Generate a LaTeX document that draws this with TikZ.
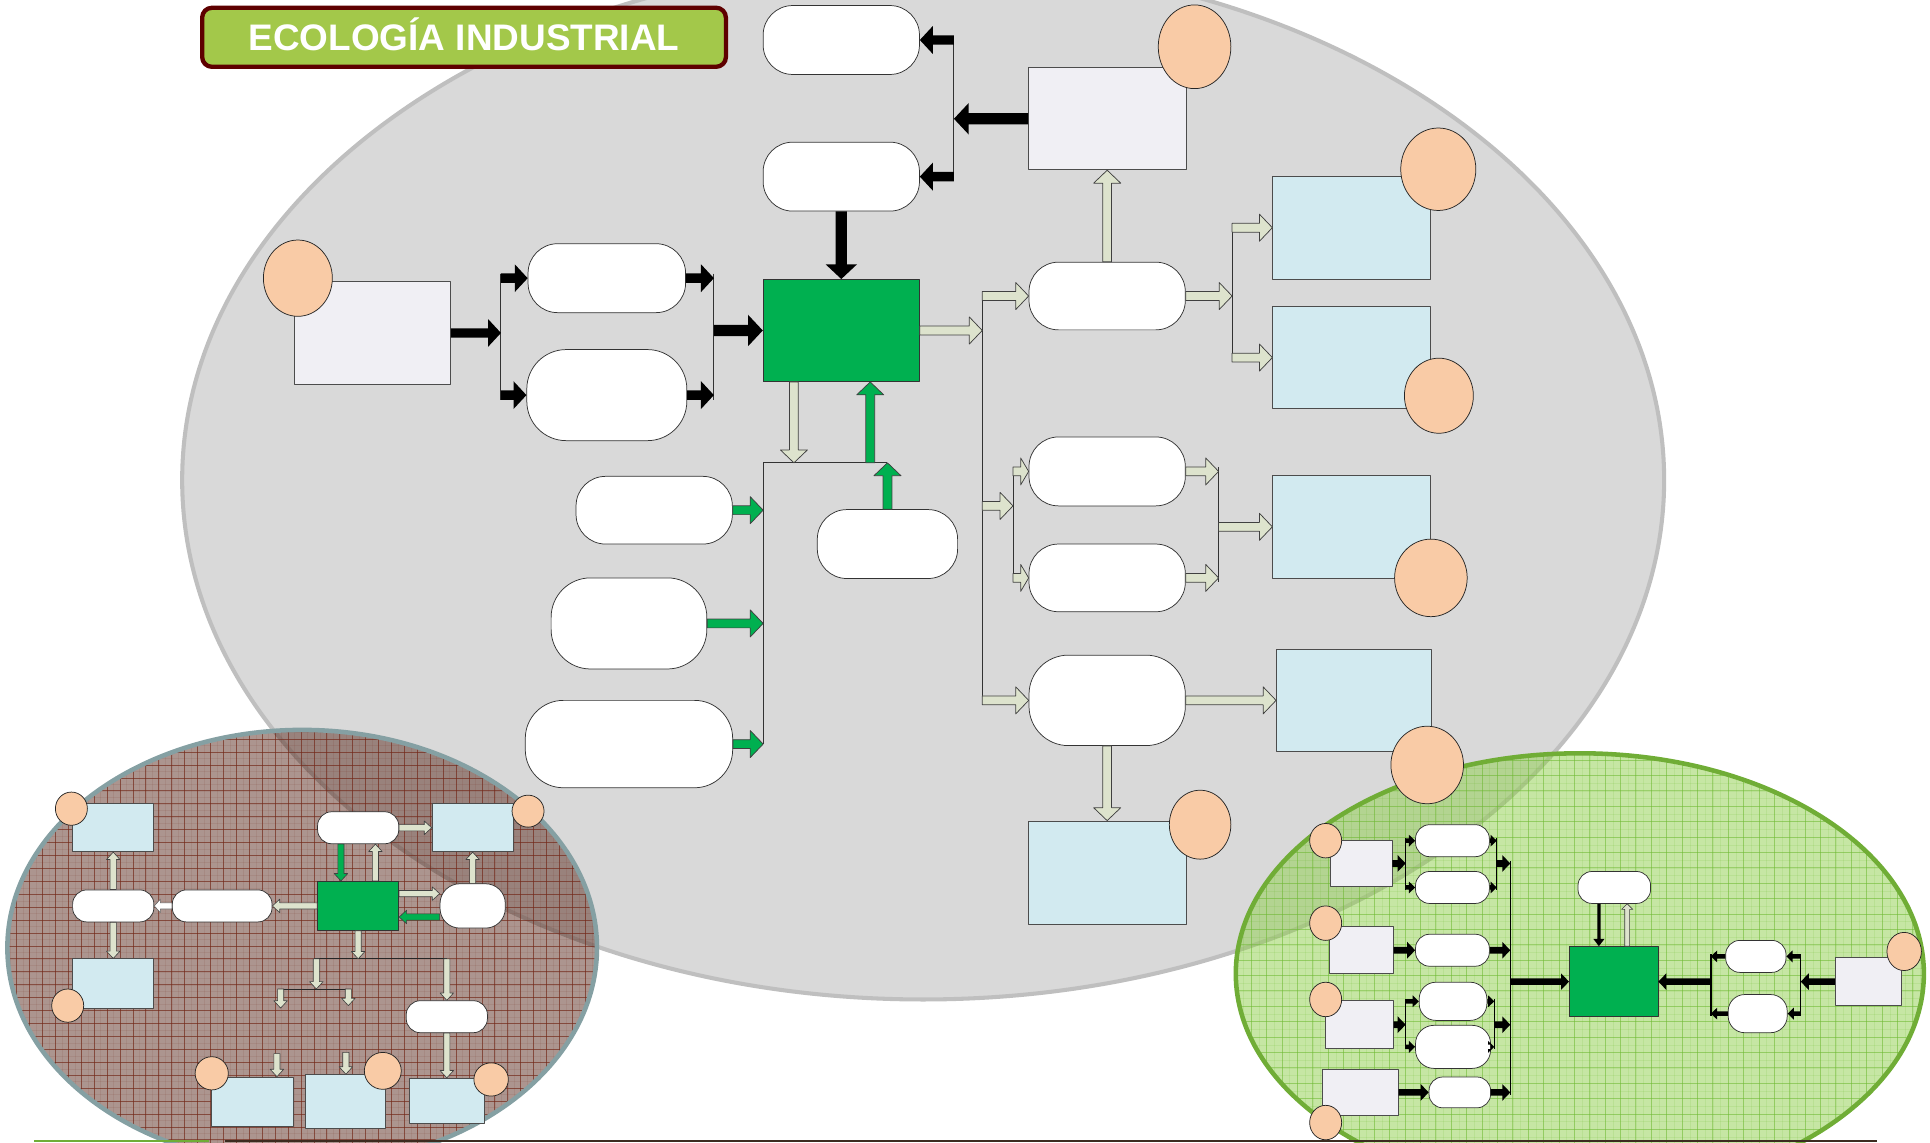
\documentclass[tikz,border=0pt]{standalone}
\usepackage{fontspec}
\setmainfont{Liberation Sans}
\usetikzlibrary{calc,shapes.geometric}

\definecolor{graybg}{RGB}{217,217,217}
\definecolor{grayedge}{RGB}{191,191,191}
\definecolor{titlefill}{RGB}{163,200,74}
\definecolor{titleedge}{RGB}{94,0,0}
\definecolor{peach}{RGB}{249,203,166}
\definecolor{lav}{RGB}{240,239,244}
\definecolor{lblue}{RGB}{210,234,240}
\definecolor{coregreen}{RGB}{0,176,80}
\definecolor{lightarr}{RGB}{221,227,205}
\definecolor{brownfill}{RGB}{95,52,40}
\definecolor{browngrid}{RGB}{115,40,25}
\definecolor{brownedge}{RGB}{133,160,163}
\definecolor{leaf}{RGB}{146,208,80}
\definecolor{leafgrid}{RGB}{110,185,50}
\definecolor{leafedge}{RGB}{112,173,54}
\definecolor{floorline}{RGB}{60,43,32}

% block arrow from #2 to #3, look and size from style #1
\newcommand{\barrow}[3]{%
  \begin{scope}[#1]
    \coordinate (ahb) at ($(#3)!\ahlen!(#2)$);
    \path[#1] ($(#2)!\ahsw!90:(#3)$) -- ($(ahb)!\ahsw!90:(#3)$) -- ($(ahb)!\ahhw!90:(#3)$)
      -- (#3) -- ($(ahb)!\ahhw!-90:(#3)$) -- ($(ahb)!\ahsw!-90:(#3)$)
      -- ($(#2)!\ahsw!-90:(#3)$) -- cycle;
  \end{scope}}

\tikzset{
  titlebox/.style={draw=titleedge, fill=titlefill, line width=3.5pt, rounded corners=8pt,
    text=white, font=\bfseries\fontsize{30pt}{30pt}\selectfont, text height=21.5pt, text depth=0pt},
  pill/.style={draw=black!80, fill=white, line width=0.6pt, rounded corners=#1},
  srcbox/.style={draw=black!70, fill=lav, line width=0.6pt},
  prodbox/.style={draw=black!70, fill=lblue, line width=0.6pt},
  corebox/.style={draw=black!80, fill=coregreen, line width=0.6pt},
  dot/.style={ellipse, draw=black!85, fill=peach, line width=0.6pt},
  bus/.style={draw=black!80, line width=0.8pt, shorten <=-3.6pt, shorten >=-3.6pt},
  wire/.style={draw=black!80, line width=0.8pt},
  sbus/.style={draw=black!85, line width=0.7pt},
  gbus/.style={draw=black, line width=1.1pt, shorten <=-1.8pt, shorten >=-1.8pt},
  arrdims/.code n args={3}{\def\ahsw{#1}\def\ahhw{#2}\def\ahlen{#3}},
  blkbig/.style={arrdims={4.6pt}{12.8pt}{12pt}, fill=black},
  blkmid/.style={arrdims={3.8pt}{11.3pt}{10.5pt}, fill=black},
  blksmall/.style={arrdims={2.7pt}{6.8pt}{6.5pt}, fill=black},
  blktiny/.style={arrdims={1.8pt}{4.8pt}{5pt}, fill=black},
  blkthin/.style={arrdims={1.3pt}{4.6pt}{6pt}, fill=black},
  lgtmid/.style={arrdims={3.6pt}{11pt}{10.5pt}, fill=lightarr, draw=black!75, line width=0.6pt},
  lgtshort/.style={arrdims={3.6pt}{11pt}{6.5pt}, fill=lightarr, draw=black!75, line width=0.6pt},
  lgtsmall/.style={arrdims={2.5pt}{5.5pt}{6pt}, fill=lightarr, draw=black!75, line width=0.5pt},
  lgttiny/.style={arrdims={2pt}{4.5pt}{4.5pt}, fill=lightarr, draw=black!75, line width=0.5pt},
  whtsmall/.style={arrdims={2.5pt}{5.5pt}{5pt}, fill=white, draw=black!60, line width=0.5pt},
  grnmid/.style={arrdims={3.6pt}{11pt}{10.5pt}, fill=coregreen, draw=black!75, line width=0.6pt},
  grnsmall/.style={arrdims={2.5pt}{5.5pt}{6pt}, fill=coregreen, draw=black!75, line width=0.5pt}
}

\begin{document}
\begin{tikzpicture}[x=1pt, y=-1pt, line join=round, every node/.append style={inner sep=0pt}]
\useasboundingbox (0,0) rectangle (1568,928);
\clip (0,0) rectangle (1568,928);

% background ellipses
\draw[grayedge, line width=3.3pt, fill=graybg] (750,390) ellipse (602 and 422);

\begin{scope}
  \clip (245.5,770) ellipse (239.5 and 177);
  \fill[brownfill, fill opacity=0.52] (0,590) rectangle (490,950);
  \foreach \gx in {3,8.25,...,490} \draw[browngrid, line width=0.3pt, draw opacity=0.1] (\gx,590) -- (\gx,950);
  \foreach \gy in {590,595.25,...,950} \draw[browngrid, line width=0.3pt, draw opacity=0.1] (0,\gy) -- (490,\gy);
  \foreach \gx in {3,13.5,...,490} \draw[browngrid, line width=0.6pt, draw opacity=0.65] (\gx,590) -- (\gx,950);
  \foreach \gy in {590,600.5,...,950} \draw[browngrid, line width=0.6pt, draw opacity=0.65] (0,\gy) -- (490,\gy);
\end{scope}
\draw[brownedge, line width=3.7pt] (245.5,770) ellipse (239.5 and 177);

\begin{scope}
  \clip (1283.5,791) ellipse (279.5 and 179);
  \fill[leaf, fill opacity=0.52] (1000,605) rectangle (1566,930);
  \foreach \gx in {1004,1010.25,...,1566} \draw[leafgrid, line width=0.3pt, draw opacity=0.15] (\gx,605) -- (\gx,930);
  \foreach \gy in {605,611.25,...,930} \draw[leafgrid, line width=0.3pt, draw opacity=0.15] (1000,\gy) -- (1566,\gy);
  \foreach \gx in {1004,1016.5,...,1566} \draw[leafgrid, line width=0.6pt, draw opacity=0.5] (\gx,605) -- (\gx,930);
  \foreach \gy in {605,617.5,...,930} \draw[leafgrid, line width=0.6pt, draw opacity=0.5] (1000,\gy) -- (1566,\gy);
\end{scope}
\draw[leafedge, line width=3.7pt] (1283.5,791) ellipse (279.5 and 179);

% title
\node[titlebox, minimum width=425.5pt, minimum height=48pt] (title) at (377,30.3) {ECOLOGÍA INDUSTRIAL};

% main diagram: nodes
\node[pill=24pt, minimum width=127pt, minimum height=56pt] (topA) at (683.5,32.5) {};
\node[pill=24pt, minimum width=127pt, minimum height=56pt] (topB) at (683.5,143.5) {};
\node[srcbox, minimum width=128pt, minimum height=83pt] (srcT) at (899.5,96.5) {};
\node[dot, minimum width=59pt, minimum height=68pt] (cSrcT) at (970.5,38) {};
\node[srcbox, minimum width=127pt, minimum height=83pt] (srcL) at (302.5,270.5) {};
\node[dot, minimum width=56pt, minimum height=62pt] (cSrcL) at (242,226) {};
\node[pill=24pt, minimum width=128pt, minimum height=56pt] (inA) at (493,226) {};
\node[pill=32pt, minimum width=130pt, minimum height=74pt] (inB) at (493,321) {};
\node[corebox, minimum width=127pt, minimum height=83pt] (core) at (683.5,268.5) {};
\node[pill=24pt, minimum width=127pt, minimum height=55pt] (outA) at (899.5,240.5) {};
\node[pill=24pt, minimum width=127pt, minimum height=56pt] (outB) at (899.5,383) {};
\node[pill=24pt, minimum width=127pt, minimum height=55pt] (outC) at (899.5,469.5) {};
\node[pill=32pt, minimum width=127pt, minimum height=73.5pt] (outD) at (899.5,569) {};
\node[prodbox, minimum width=128pt, minimum height=84pt] (prA) at (1098,185) {};
\node[prodbox, minimum width=128pt, minimum height=83pt] (prB) at (1098,290.5) {};
\node[prodbox, minimum width=128pt, minimum height=84pt] (prC) at (1098,428) {};
\node[prodbox, minimum width=126pt, minimum height=83pt] (prD) at (1100,569) {};
\node[prodbox, minimum width=128pt, minimum height=84pt] (prE) at (899.5,709) {};
\node[dot, minimum width=61pt, minimum height=67pt] (cPrA) at (1168.5,137.5) {};
\node[dot, minimum width=56pt, minimum height=61pt] (cPrB) at (1169,321.5) {};
\node[dot, minimum width=59pt, minimum height=63pt] (cPrC) at (1162.5,469.5) {};
\node[dot, minimum width=59pt, minimum height=63pt] (cPrD) at (1159.5,621.5) {};
\node[dot, minimum width=50pt, minimum height=56pt] (cPrE) at (975,670) {};
\node[pill=24pt, minimum width=127pt, minimum height=55pt] (recA) at (531.5,414.5) {};
\node[pill=32pt, minimum width=126.5pt, minimum height=74pt] (recB) at (511,506.5) {};
\node[pill=31pt, minimum width=168.5pt, minimum height=71pt] (recC) at (511,604.5) {};
\node[pill=24pt, minimum width=114pt, minimum height=56pt] (recD) at (721,442) {};

% main diagram: buses
\coordinate (busTa) at (775,32.5);
\coordinate (busTb) at (775,143.5);
\coordinate (busLa) at (407,226);
\coordinate (busLb) at (407,321);
\coordinate (busMa) at (580,226);
\coordinate (busMb) at (580,321);
\coordinate (busOa) at (798,240.5);
\coordinate (busOb) at (798,569);
\coordinate (busPa) at (1001,185);
\coordinate (busPb) at (1001,290.5);
\coordinate (busQa) at (823,383);
\coordinate (busQm) at (823,411);
\coordinate (busQb) at (823,469.5);
\coordinate (busRa) at (990,383);
\coordinate (busRb) at (990,469.5);
\coordinate (loopL) at (620,376);
\coordinate (loopR) at (721,376);
\coordinate (loopB) at (620,604.5);
\coordinate (dnX) at (645,376);
\coordinate (upX) at (707,376);
\draw[bus] (busTa) -- (busTb);
\draw[bus] (busLa) -- (busLb);
\draw[bus] (busMa) -- (busMb);
\draw[bus] (busOa) -- (busOb);
\draw[bus] (busPa) -- (busPb);
\draw[bus] (busQa) -- (busQb);
\draw[bus] (busRa) -- (busRb);
\draw[wire] (loopR) -- (loopL) -- (loopB);

% main diagram: arrows
\barrow{blkbig}{srcT.west}{busTa |- srcT.west}
\barrow{blkmid}{busTa}{topA.east}
\barrow{blkmid}{busTb}{topB.east}
\barrow{blkbig}{topB.south}{core.north}
\barrow{blkmid}{srcL.east}{busLa |- srcL.east}
\barrow{blkmid}{busLa}{inA.west}
\barrow{blkmid}{busLb}{inB.west}
\barrow{blkmid}{inA.east}{busMa}
\barrow{blkmid}{inB.east}{busMb}
\barrow{blkbig}{busMa |- core.west}{core.west}
\barrow{lgtmid}{core.east}{busOa |- core.east}
\barrow{lgtmid}{busOa}{outA.west}
\barrow{lgtmid}{outA.north}{srcT.south}
\barrow{lgtmid}{outA.east}{busPa |- outA.east}
\barrow{lgtmid}{busPa}{prA.west}
\barrow{lgtmid}{busPb}{prB.west}
\barrow{lgtmid}{busOa |- busQm}{busQm}
\barrow{lgtshort}{busQa}{outB.west}
\barrow{lgtshort}{busQb}{outC.west}
\barrow{lgtmid}{outB.east}{busRa}
\barrow{lgtmid}{outC.east}{busRb}
\barrow{lgtmid}{busRa |- prC.west}{prC.west}
\barrow{lgtmid}{busOb}{outD.west}
\barrow{lgtmid}{outD.east}{prD.west}
\barrow{lgtmid}{outD.south}{prE.north}
\barrow{lgtmid}{core.south -| dnX}{dnX}
\barrow{grnmid}{upX}{core.south -| upX}
\barrow{grnmid}{recA.east}{loopL |- recA.east}
\barrow{grnmid}{recB.east}{loopL |- recB.east}
\barrow{grnmid}{recC.east}{loopB}
\barrow{grnmid}{recD.north}{loopR}

% brown sub-diagram
\node[prodbox, minimum width=66pt, minimum height=39pt] (bTL) at (92,672.5) {};
\node[prodbox, minimum width=66pt, minimum height=40pt] (bBL) at (92,799) {};
\node[pill=11.5pt, minimum width=66pt, minimum height=26pt] (bpL) at (92,736) {};
\node[pill=11.5pt, minimum width=81pt, minimum height=26pt] (bpM) at (180.5,736) {};
\node[corebox, minimum width=66pt, minimum height=40pt] (bG) at (291,736) {};
\node[pill=11.5pt, minimum width=66pt, minimum height=26pt] (bpT) at (291,672.5) {};
\node[prodbox, minimum width=66pt, minimum height=39pt] (bTR) at (384,672.5) {};
\node[pill=16pt, minimum width=53pt, minimum height=36pt] (bpR) at (384,736) {};
\node[pill=11.5pt, minimum width=66pt, minimum height=26pt] (bpB) at (363,826) {};
\node[prodbox, minimum width=66pt, minimum height=40pt] (bB1) at (205,895) {};
\node[prodbox, minimum width=65pt, minimum height=44pt] (bB2) at (280.5,895) {};
\node[prodbox, minimum width=61pt, minimum height=37pt] (bB3) at (363,894.5) {};
\node[dot, minimum width=26pt, minimum height=27pt] (bcTL) at (58,657) {};
\node[dot, minimum width=26pt, minimum height=27pt] (bcBL) at (55,817) {};
\node[dot, minimum width=26pt, minimum height=26pt] (bcTR) at (429,659) {};
\node[dot, minimum width=27pt, minimum height=27pt] (bcB1) at (172,872) {};
\node[dot, minimum width=30pt, minimum height=30pt] (bcB2) at (311,870) {};
\node[dot, minimum width=28pt, minimum height=27pt] (bcB3) at (399,877) {};

\coordinate (bx1) at (277,0);
\coordinate (bx2) at (305,0);
\coordinate (by1) at (0,726);
\coordinate (by2) at (0,745);
\coordinate (bbusL) at (255,779);
\coordinate (bbusR) at (363,779);
\coordinate (bdrop) at (257,803.5);
\coordinate (bsubL) at (228,803.5);
\coordinate (bsubR) at (283,803.5);
\coordinate (bendL) at (228,819);
\coordinate (bendR) at (283,817);
\coordinate (bfreeA) at (225,856);
\coordinate (bfreeB) at (281,855);
\draw[sbus] (bbusL) -- (bbusR);
\draw[sbus] (bsubL) -- (bsubR);

\barrow{lgtsmall}{bG.west}{bpM.east}
\barrow{whtsmall}{bpM.west}{bpL.east}
\barrow{lgtsmall}{bpL.north}{bTL.south}
\barrow{lgtsmall}{bpL.south}{bBL.north}
\barrow{grnsmall}{bpT.south -| bx1}{bG.north -| bx1}
\barrow{lgtsmall}{bG.north -| bx2}{bpT.south -| bx2}
\barrow{lgtsmall}{bpT.east}{bTR.west}
\barrow{lgtsmall}{bG.east |- by1}{bpR.west |- by1}
\barrow{grnsmall}{bpR.west |- by2}{bG.east |- by2}
\barrow{lgtsmall}{bpR.north}{bTR.south}
\barrow{lgtsmall}{bG.south}{bG.south |- bbusL}
\barrow{lgtsmall}{bdrop |- bbusL}{bdrop}
\barrow{lgtsmall}{bsubL}{bendL}
\barrow{lgtsmall}{bsubR}{bendR}
\barrow{lgtsmall}{bbusR}{bpB.north}
\barrow{lgtsmall}{bpB.south}{bB3.north}
\barrow{lgtsmall}{bfreeA}{bB1.north -| bfreeA}
\barrow{lgtsmall}{bfreeB}{bB2.north -| bfreeB}

% green sub-diagram
\node[srcbox, minimum width=50pt, minimum height=37pt] (gB1) at (1106,701.5) {};
\node[srcbox, minimum width=52pt, minimum height=38pt] (gB2) at (1106,772) {};
\node[srcbox, minimum width=55pt, minimum height=39pt] (gB3) at (1104.5,832.5) {};
\node[srcbox, minimum width=62pt, minimum height=37pt] (gB4) at (1105,887.5) {};
\node[pill=11.5pt, minimum width=60pt, minimum height=26pt] (gP1) at (1180,683) {};
\node[pill=11.5pt, minimum width=60pt, minimum height=26pt] (gP2) at (1180,721) {};
\node[pill=11.5pt, minimum width=60pt, minimum height=26pt] (gP3) at (1180,772) {};
\node[pill=13.5pt, minimum width=55pt, minimum height=31pt] (gP4) at (1180.5,813.5) {};
\node[pill=15pt, minimum width=61pt, minimum height=35pt] (gP5) at (1180.5,850.5) {};
\node[pill=11pt, minimum width=50pt, minimum height=25pt] (gP6) at (1186,887.5) {};
\node[corebox, minimum width=72pt, minimum height=57pt] (gG) at (1311,797.5) {};
\node[pill=11.5pt, minimum width=59pt, minimum height=26pt] (gPT) at (1311.5,721) {};
\node[srcbox, minimum width=54pt, minimum height=39pt] (gBR) at (1518,797.5) {};
\node[pill=11.5pt, minimum width=49pt, minimum height=26pt] (gPR1) at (1426.5,777) {};
\node[pill=13.5pt, minimum width=48pt, minimum height=31pt] (gPR2) at (1428,823.5) {};
\node[dot, minimum width=26pt, minimum height=28pt] (gc1) at (1077,683) {};
\node[dot, minimum width=26pt, minimum height=28pt] (gc2) at (1077,750) {};
\node[dot, minimum width=26pt, minimum height=28pt] (gc3) at (1077,812) {};
\node[dot, minimum width=26pt, minimum height=28pt] (gc4) at (1077,912) {};
\node[dot, minimum width=28pt, minimum height=31pt] (gcR) at (1547,773) {};

\coordinate (gj1a) at (1142,683);
\coordinate (gj1b) at (1142,721);
\coordinate (gk1a) at (1216,683);
\coordinate (gk1b) at (1216,721);
\coordinate (gj2a) at (1142,813.5);
\coordinate (gj2b) at (1142,850.5);
\coordinate (gk2a) at (1214,813.5);
\coordinate (gk2b) at (1214,850.5);
\coordinate (gmA) at (1227,701.5);
\coordinate (gmB) at (1227,887.5);
\coordinate (grbA) at (1463,777);
\coordinate (grbB) at (1463,823.5);
\coordinate (glbA) at (1390,777);
\coordinate (glbB) at (1390,823.5);
\coordinate (gx1) at (1299,0);
\coordinate (gx2) at (1322,0);
\draw[gbus] (gj1a) -- (gj1b);
\draw[gbus] (gk1a) -- (gk1b);
\draw[gbus] (gj2a) -- (gj2b);
\draw[gbus] (gk2a) -- (gk2b);
\draw[gbus] (gmA) -- (gmB);
\draw[gbus] (grbA) -- (grbB);
\draw[gbus] (glbA) -- (glbB);

\barrow{blksmall}{gB1.east}{gj1a |- gB1.east}
\barrow{blktiny}{gj1a}{gP1.west}
\barrow{blktiny}{gj1b}{gP2.west}
\barrow{blktiny}{gP1.east}{gk1a}
\barrow{blktiny}{gP2.east}{gk1b}
\barrow{blksmall}{gk1a |- gB1.east}{gmA |- gB1.east}
\barrow{blksmall}{gB2.east}{gP3.west}
\barrow{blksmall}{gP3.east}{gmA |- gP3.east}
\barrow{blksmall}{gB3.east}{gj2a |- gB3.east}
\barrow{blktiny}{gj2a}{gP4.west}
\barrow{blktiny}{gj2b}{gP5.west}
\barrow{blktiny}{gP4.east}{gk2a}
\barrow{blktiny}{gP5.east}{gk2b}
\barrow{blksmall}{gk2a |- gB3.east}{gmA |- gB3.east}
\barrow{blksmall}{gB4.east}{gP6.west}
\barrow{blksmall}{gP6.east}{gmA |- gP6.east}
\barrow{blksmall}{gmA |- gG.west}{gG.west}
\barrow{blkthin}{gPT.south -| gx1}{gG.north -| gx1}
\barrow{lgttiny}{gG.north -| gx2}{gPT.south -| gx2}
\barrow{blksmall}{gBR.west}{grbA |- gBR.west}
\barrow{blktiny}{grbA}{gPR1.east}
\barrow{blktiny}{grbB}{gPR2.east}
\barrow{blktiny}{gPR1.west}{glbA}
\barrow{blktiny}{gPR2.west}{glbB}
\barrow{blksmall}{glbA |- gG.east}{gG.east}

% floor line
\draw[leafedge, line width=1.6pt] (28,926.8) -- (170,926.8);
\draw[floorline, line width=1.6pt] (183,926.8) -- (1525,926.8);
\end{tikzpicture}
\end{document}
